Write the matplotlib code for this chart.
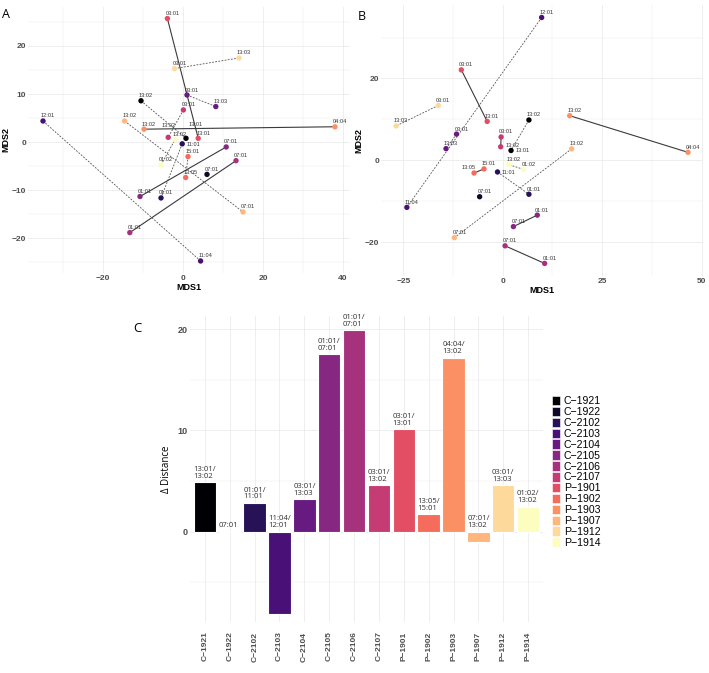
import numpy as np
import matplotlib.pyplot as plt
from matplotlib.patches import Patch
from matplotlib.ticker import MultipleLocator

individuals = ["C-1921", "C-1922", "C-2102", "C-2103", "C-2104", "C-2105", "C-2106",
               "C-2107", "P-1901", "P-1902", "P-1903", "P-1907", "P-1912", "P-1914"]
delta_distance = [4.9, 0.05, 2.83, -8.14, 3.2, 17.5, 19.9, 4.58, 10.1, 1.7, 17.2, -0.99, 4.58, 2.47]
bar_alleles = ["13:01/\n13:02", "07:01", "01:01/\n11:01", "11:04/\n12:01", "03:01/\n13:03",
               "01:01/\n07:01", "01:01/\n07:01", "03:01/\n13:02", "03:01/\n13:01", "13:05/\n15:01",
               "04:04/\n13:02", "07:01/\n13:02", "03:01/\n13:03", "01:02/\n13:02"]

# panel A, one row per allele
a_ind = ["C-1921", "C-1921", "C-1922", "C-2102", "C-2102", "C-2103", "C-2103", "C-2104", "C-2104",
         "C-2105", "C-2105", "C-2106", "C-2106", "C-2107", "C-2107", "P-1901", "P-1901",
         "P-1902", "P-1902", "P-1903", "P-1903", "P-1907", "P-1907", "P-1912", "P-1912",
         "P-1914", "P-1914"]
a_allele = ["13:02", "13:01", "07:01", "11:01", "01:01", "12:01", "11:04", "03:01", "13:03",
            "07:01", "01:01", "07:01", "01:01", "03:01", "13:02", "03:01", "13:01",
            "15:01", "13:05", "13:02", "04:04", "13:02", "07:01", "03:01", "13:03",
            "01:02", "13:02"]
a_x = [-10.5, 0.75, 6.0, -0.2, -5.5, -35.0, 4.4, 1.0, 8.2,
       10.8, -10.75, 13.25, -13.3, 0.1, -3.7, -3.9, 3.8,
       1.25, 0.67, -9.75, 38.0, -14.6, 15.0, -2.1, 14.0,
       -5.5, -2.0]
a_y = [8.6, 0.8, -6.7, -0.35, -11.6, 4.4, -24.7, 9.8, 7.4,
       -1.0, -11.3, -3.85, -18.8, 6.7, 1.0, 25.7, 0.8,
       -3.0, -7.35, 2.7, 3.2, 4.4, -14.5, 15.3, 17.5,
       -4.7, 0.5]
a_solid = ["C-2105", "C-2106", "P-1901", "P-1903"]

# panel B
b_ind = a_ind
b_allele = a_allele
b_x = [6.6, 2.1, -5.8, -1.3, 6.6, 9.8, -24.1, -11.6, -14.25,
       2.7, 8.7, 0.6, 10.55, -0.4, -0.5, -10.4, -3.9,
       -4.7, -7.2, 16.85, 46.6, 17.35, -12.15, -16.2, -26.8,
       5.2, 1.5]
b_y = [9.85, 2.4, -8.9, -2.85, -8.3, 34.9, -11.5, 6.4, 2.85,
       -16.2, -13.4, -20.9, -25.2, 5.7, 3.3, 22.1, 9.5,
       -2.1, -3.1, 10.9, 1.95, 2.8, -18.9, 13.4, 8.4,
       -2.2, -1.06]
b_solid = ["C-2105", "C-2106", "C-2107", "P-1901", "P-1902", "P-1903"]

# label nudges (points) where labels were pushed apart in the original
a_nudge = {14: (-5, 7, "left"), 1: (2, 8.5, "left"), 3: (3.5, -2.5, "left")}
b_nudge = {14: (3.5, -0.7, "left"), 1: (3, -2, "left"), 3: (3, -2, "left"),
           18: (1.5, 1.8, "right")}

colors = plt.cm.magma(np.linspace(0, 1, len(individuals)))
col_of = dict(zip(individuals, colors))
grid_col = "#ebebeb"
tick_col = "#4d4d4d"
FONT = "Liberation Sans"


def style_axes(ax):
    for s in ax.spines.values():
        s.set_visible(False)
    ax.grid(True, which="major", color=grid_col, lw=0.6)
    ax.grid(True, which="minor", color=grid_col, lw=0.35)
    ax.set_axisbelow(True)
    ax.tick_params(which="both", length=0, pad=1.5, labelsize=6, labelcolor=tick_col)
    for lab in ax.get_xticklabels() + ax.get_yticklabels():
        lab.set_fontweight("bold")
        lab.set_fontfamily(FONT)


def draw_mds(ax, ind, allele, xs, ys, solid, nudge):
    for name in individuals:
        idx = [i for i, n in enumerate(ind) if n == name]
        if len(idx) == 2:
            px = [xs[i] for i in idx]
            py = [ys[i] for i in idx]
            if name in solid:
                ax.plot(px, py, color="#3a3a3a", lw=0.8, zorder=2)
            else:
                ax.plot(px, py, color="#555555", lw=0.6, ls=(0, (2.2, 1.6)), zorder=2)
    ax.scatter(xs, ys, s=15, c=[col_of[n] for n in ind], lw=0, zorder=3)
    for i, (x, y, t) in enumerate(zip(xs, ys, allele)):
        dx, dy, ha = nudge.get(i, (-1.5, 1.8, "left"))
        ax.annotate(t, (x, y), xytext=(dx, dy), textcoords="offset points",
                    ha=ha, va="bottom", fontsize=4.1, color="#333333",
                    family=FONT, zorder=4)
    ax.set_xlabel("MDS1", fontsize=6.5, fontweight="bold", family=FONT, labelpad=1)
    ax.set_ylabel("MDS2", fontsize=6.5, fontweight="bold", family=FONT, labelpad=1)


fig = plt.figure(figsize=(7.09, 6.73), dpi=100)
W, H = 709, 673

# panel A
axA = fig.add_axes([28.4 / W, 1 - 273 / H, 321.2 / W, 266.5 / H])
draw_mds(axA, a_ind, a_allele, a_x, a_y, a_solid, a_nudge)
axA.set_xlim(-38.65, 41.65)
axA.set_ylim(-27.2, 28.2)
axA.xaxis.set_major_locator(MultipleLocator(20))
axA.xaxis.set_minor_locator(MultipleLocator(10))
axA.yaxis.set_major_locator(MultipleLocator(10))
axA.yaxis.set_minor_locator(MultipleLocator(5))
style_axes(axA)

# panel B
axB = fig.add_axes([381.4 / W, 1 - 275.7 / H, 321.3 / W, 270.5 / H])
draw_mds(axB, b_ind, b_allele, b_x, b_y, b_solid, b_nudge)
axB.set_xlim(-30.5, 50.3)
axB.set_ylim(-28.2, 37.9)
axB.xaxis.set_major_locator(MultipleLocator(25))
axB.xaxis.set_minor_locator(MultipleLocator(12.5))
axB.yaxis.set_major_locator(MultipleLocator(20))
axB.yaxis.set_minor_locator(MultipleLocator(10))
style_axes(axB)

# panel C
axC = fig.add_axes([190 / W, 1 - 621.8 / H, 353 / W, 305.8 / H])
pos = np.arange(len(individuals))
axC.bar(pos, delta_distance, width=0.9, color=colors, edgecolor="white", lw=0.8, zorder=2)
for p, v, t in zip(pos, delta_distance, bar_alleles):
    axC.text(p - 0.45, max(v, 0) + 0.25, t, ha="left", va="bottom", fontsize=5.6,
             family="Open Sans", color="#333333", linespacing=0.95, clip_on=False, zorder=3)
axC.set_xlim(-0.6, len(individuals) - 0.4)
axC.set_ylim(-8.9, 21.3)
axC.set_xticks(pos)
axC.set_xticklabels([n.replace("-", "\u2212") for n in individuals], rotation=90)
axC.yaxis.set_major_locator(MultipleLocator(10))
axC.yaxis.set_minor_locator(MultipleLocator(5))
axC.set_ylabel("\u0394 Distance", fontsize=7, family="Open Sans", labelpad=4)
style_axes(axC)
axC.tick_params(axis="x", labelsize=6, pad=7)
axC.tick_params(axis="y", labelsize=6.5)

handles = [Patch(facecolor=c, edgecolor="white", lw=0.4) for c in colors]
fig.legend(handles, [n.replace("-", "\u2212") for n in individuals],
           loc="upper left", bbox_to_anchor=(551.7 / W, 1 - 396 / H),
           frameon=False, borderpad=0, borderaxespad=0, handlelength=0.8,
           handleheight=1.0, labelspacing=0.05, handletextpad=0.35,
           prop={"family": FONT, "size": 7.6})

# panel letters
fig.text(6 / W, 1 - 15 / H, "A", fontsize=9, family="Open Sans", ha="center", va="center")
fig.text(361.5 / W, 1 - 16 / H, "B", fontsize=9, family="Open Sans", ha="center", va="center")
fig.text(137.5 / W, 1 - 328 / H, "C", fontsize=9.5, family="Open Sans", ha="center", va="center")

fig.savefig("out.png", dpi=100)
